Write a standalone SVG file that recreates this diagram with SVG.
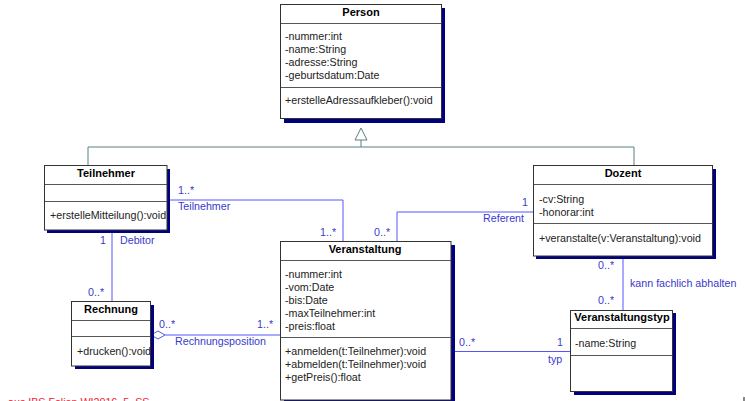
<svg xmlns="http://www.w3.org/2000/svg" width="745" height="401" viewBox="0 0 745 401">
<style>
text{font-family:"Liberation Sans",Arial,sans-serif;font-size:10.7px;fill:#222}
.h{font-weight:bold;font-size:11px;text-anchor:middle;fill:#000}
.box{fill:#fff;stroke:#333;stroke-width:1}
.sh{fill:#000080}
.sep{stroke:#555;stroke-width:1}
.gen{fill:none;stroke:#5a8080;stroke-width:1}
.as{fill:none;stroke:#5555ff;stroke-width:1}
.lbl{fill:#3a3acc}
.end{text-anchor:end}
.red{fill:#ee2233}
</style>
<defs>
<clipPath id="clipR"><rect x="72" y="337" width="79" height="29"/></clipPath>
</defs>
<g id="connectors">
<polygon class="gen" points="361,128 355,140 367,140"/>
<path class="gen" d="M361,140V147M88,166V147H634V166"/>
<path class="as" d="M167,200H343V241"/>
<path class="as" d="M112,230V302"/>
<path class="as" d="M533,212H397V241"/>
<path class="as" d="M623,256V310"/>
<path class="as" d="M455,351.5H571"/>
<path class="as" d="M165,335H280"/>
<polygon points="151,335 158,331 165,335 158,339" fill="#fff" stroke="#5555ff"/>
<text class="lbl" x="178" y="194">1..*</text>
<text class="lbl" x="178" y="210">Teilnehmer</text>
<text class="lbl" x="320" y="236">1..*</text>
<text class="lbl" x="100" y="244">1</text>
<text class="lbl" x="120" y="244">Debitor</text>
<text class="lbl" x="88" y="296">0..*</text>
<text class="lbl" x="159" y="328">0..*</text>
<text class="lbl" x="257" y="328">1..*</text>
<text class="lbl" x="175" y="345">Rechnungsposition</text>
<text class="lbl" x="522" y="206">1</text>
<text class="lbl end" x="524" y="222">Referent</text>
<text class="lbl" x="374" y="236">0..*</text>
<text class="lbl" x="598" y="269">0..*</text>
<text class="lbl" x="630" y="286.5">kann fachlich abhalten</text>
<text class="lbl" x="598" y="304">0..*</text>
<text class="lbl" x="459" y="346">0..*</text>
<text class="lbl" x="557" y="346">1</text>
<text class="lbl" x="548" y="362.5">typ</text>
</g>
<g id="Person">
<rect class="sh" x="284" y="8" width="161" height="115"/>
<rect class="box" x="280.5" y="4.5" width="161" height="114"/>
<line class="sep" x1="281" y1="23.5" x2="441" y2="23.5"/>
<line class="sep" x1="281" y1="87.5" x2="441" y2="87.5"/>
<text class="h" x="361" y="16">Person</text>
<text x="285" y="40">-nummer:int</text>
<text x="285" y="53">-name:String</text>
<text x="285" y="66">-adresse:String</text>
<text x="285" y="79">-geburtsdatum:Date</text>
<text x="285" y="104">+erstelleAdressaufkleber():void</text>
</g>
<g id="Teilnehmer">
<rect class="sh" x="47" y="169" width="123" height="64"/>
<rect class="box" x="44.5" y="165.5" width="122.5" height="64.5"/>
<line class="sep" x1="45" y1="184.5" x2="167" y2="184.5"/>
<line class="sep" x1="45" y1="201.5" x2="167" y2="201.5"/>
<text class="h" x="106" y="177">Teilnehmer</text>
<text x="50" y="219">+erstelleMitteilung():void</text>
</g>
<g id="Dozent">
<rect class="sh" x="536" y="169" width="180" height="90"/>
<rect class="box" x="533.5" y="165.5" width="179" height="90.5"/>
<line class="sep" x1="534" y1="184.5" x2="712" y2="184.5"/>
<line class="sep" x1="534" y1="223.5" x2="712" y2="223.5"/>
<text class="h" x="623" y="177">Dozent</text>
<text x="539" y="202.5">-cv:String</text>
<text x="539" y="216">-honorar:int</text>
<text x="539" y="241.5">+veranstalte(v:Veranstaltung):void</text>
</g>
<g id="Rechnung">
<rect class="sh" x="75" y="305" width="79" height="64"/>
<rect class="box" x="71.5" y="301.5" width="79" height="64.5"/>
<line class="sep" x1="72" y1="320.5" x2="150" y2="320.5"/>
<line class="sep" x1="72" y1="336.5" x2="150" y2="336.5"/>
<text class="h" x="111" y="312.5">Rechnung</text>
<text x="77" y="355" clip-path="url(#clipR)">+drucken():void</text>
</g>
<g id="Veranstaltung">
<rect class="sh" x="284" y="245" width="171" height="160"/>
<rect class="box" x="280.5" y="241.5" width="170.5" height="158.5"/>
<line class="sep" x1="281" y1="260.5" x2="451" y2="260.5"/>
<line class="sep" x1="281" y1="337.5" x2="451" y2="337.5"/>
<text class="h" x="365" y="252.5">Veranstaltung</text>
<text x="285" y="278">-nummer:int</text>
<text x="285" y="291">-vom:Date</text>
<text x="285" y="304">-bis:Date</text>
<text x="285" y="317">-maxTeilnehmer:int</text>
<text x="285" y="330">-preis:float</text>
<text x="285" y="354.5">+anmelden(t:Teilnehmer):void</text>
<text x="285" y="367.5">+abmelden(t:Teilnehmer):void</text>
<text x="285" y="380.5">+getPreis():float</text>
</g>
<g id="Veranstaltungstyp">
<rect class="sh" x="574" y="313" width="102" height="82"/>
<rect class="box" x="570.5" y="310.5" width="102" height="81"/>
<line class="sep" x1="571" y1="328.5" x2="672" y2="328.5"/>
<line class="sep" x1="571" y1="355.5" x2="672" y2="355.5"/>
<text class="h" x="622" y="321">Veranstaltungstyp</text>
<text x="575" y="347">-name:String</text>
</g>
<text class="red" x="8" y="406">aus IBS Folien WI2016_5_SS</text>
<rect x="743" y="397" width="2" height="4" fill="#888"/>
</svg>
